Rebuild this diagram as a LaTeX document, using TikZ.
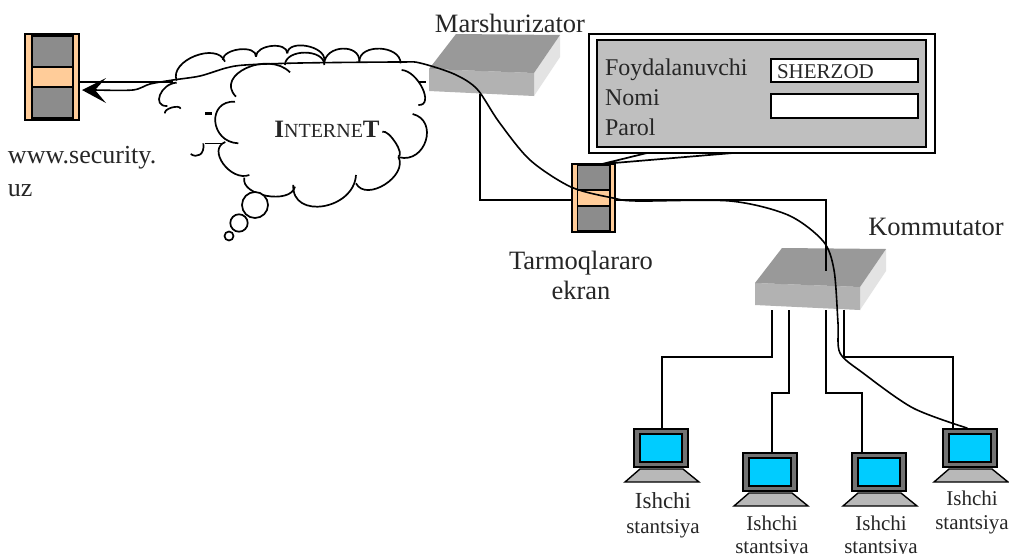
\documentclass[tikz,border=0pt]{standalone}
\usepackage{fontspec}
\setmainfont{Liberation Serif}
\usetikzlibrary{calc}
\definecolor{peach}{HTML}{FFCC99}
\definecolor{scr}{HTML}{00CCFF}
\newcommand{\fsz}[1]{\fontsize{#1}{#1}\selectfont}
\newcommand{\maincloud}{420/187/290/174/258/260,255/275/196/335/265/400,226/396/220/462/298/495,283/503/350/558/435/530,430/525/520/589/618/495,618/520/705/524/745/440,745/440/737/398/697/365,748/442/828/392/788/312,805/285/818/235/755/180,752/160/690/116/628/155,628/155/578/116/523/160,523/165/465/128/405/165}
\newcommand{\backcloud}{80/212/135/138/225/155,218/150/270/118/318/140,318/140/365/108/412/130,412/130/470/108/523/150,80/218/30/255/52/288,45/310/65/293/92/296}
\tikzset{
  x=1pt,y=-1pt,
  lbl/.style={anchor=base,inner sep=0pt,outer sep=0pt,text=black!85},
  conn/.style={draw=black,line width=2pt,line join=miter},
  wire/.style={draw=black,line width=1.6pt,line cap=round,line join=round},
  cl/.style={draw=black,line width=1.7pt},
  fwall/.pic={
    \filldraw[fill=peach,draw=black,line width=1.8pt] (0,0) rectangle (54,86);
    \filldraw[fill=black!45,draw=black,line width=1.4pt] (7,2) rectangle (48,33);
    \filldraw[fill=peach,draw=black,line width=1.8pt] (7,33) rectangle (48,53);
    \filldraw[fill=black!45,draw=black,line width=1.4pt] (7,53) rectangle (48,84);
  },
  box3d/.pic={
    \fill[black!11] (105,4) -- (131,-34) -- (131,-12) -- (105,27) -- cycle;
    \fill[black!30] (0,0) -- (105,4) -- (105,27) -- (0,22) -- cycle;
    \fill[black!40] (0,0) -- (27,-35) -- (131,-34) -- (105,4) -- cycle;
  },
  pcst/.pic={
    \filldraw[fill=black!55,draw=black,line width=1.3pt] (0,0) rectangle (54,38);
    \filldraw[fill=scr,draw=black,line width=1.7pt] (6,5) rectangle (48,33);
    \filldraw[fill=black!28,draw=black,line width=1.4pt] (6,40) -- (49,40) -- (65,53) -- (-9,53) -- cycle;
  }
}
\begin{document}
\begin{tikzpicture}
\useasboundingbox (0,0) rectangle (1009,554);
\fill[white] (0,0) rectangle (1009,554);
% named anchors
\coordinate (rb) at (480,94);
\coordinate (rc) at (480,200);
\coordinate (fL) at (572,200);
\coordinate (sc) at (825.5,200);
\coordinate (st) at (825.5,271);
\coordinate (srvTip) at (82,90);
\coordinate (srvTop) at (80,82);
\coordinate (cloudEdge) at (173,82);
\coordinate (s1) at (772,310);\coordinate (s2) at (789,310);\coordinate (s3) at (826,310);\coordinate (s4) at (844,310);
\coordinate (p1) at (662,429);\coordinate (p2) at (772,453);\coordinate (p3) at (862,453);\coordinate (p4) at (953,429);
% back cloud
\begin{scope}[shift={(150,10)},x=.3333pt,y=-.3333pt]
\foreach \ax/\ay/\px/\py/\bx/\by in \backcloud
  \draw[cl] (\ax,\ay) .. controls ($.333*(\ax,\ay)+1.333*(\px,\py)-.667*(\bx,\by)$) and ($.333*(\bx,\by)+1.333*(\px,\py)-.667*(\ax,\ay)$) .. (\bx,\by);
\draw[cl] (122,432) .. controls (140,445) and (165,435) .. (160,400);
\draw[black,line width=1pt] (165,400) -- (225,400);
\draw[cl] (805,215) -- (828,215);
\fill[black] (165,305) rectangle (185,316);
% main cloud fill
\foreach \ax/\ay/\px/\py/\bx/\by in \maincloud
  \fill[white] (\ax,\ay) .. controls ($.333*(\ax,\ay)+1.333*(\px,\py)-.667*(\bx,\by)$) and ($.333*(\bx,\by)+1.333*(\px,\py)-.667*(\ax,\ay)$) .. (\bx,\by) -- cycle;
\fill[white] (420,187) -- (258,260) -- (265,400) -- (298,495) -- (435,530) -- (618,495) -- (745,440) -- (788,312) -- (755,180) -- (628,155) -- (523,160) -- cycle;
\foreach \ax/\ay/\px/\py/\bx/\by in \maincloud
  \draw[cl] (\ax,\ay) .. controls ($.333*(\ax,\ay)+1.333*(\px,\py)-.667*(\bx,\by)$) and ($.333*(\bx,\by)+1.333*(\px,\py)-.667*(\ax,\ay)$) .. (\bx,\by);
\end{scope}
\draw[cl,fill=white] (255,205) circle (13);
\draw[cl,fill=white] (239,223) circle (8.7);
\draw[cl,fill=white] (229,236) circle (4.5);
\node[lbl] (inet) at (327,137) {{\fsz{25}\bfseries I}{\fsz{20}NTERNE}{\fsz{25}\bfseries T}};
% devices
\path (429,69) pic {box3d};
\path (755,283) pic {box3d};
% connectors
\draw[conn] (rb) -- (rc) -- (fL);
\draw[conn] (fL) -- (sc) -- (st);
\draw[conn] (s1) |- (p1 |- 0,357) -- (p1);
\draw[conn] (s2) |- (p2 |- 0,393) -- (p2);
\draw[conn] (s3) |- (p3 |- 0,393) -- (p3);
\draw[conn] (s4) |- (p4 |- 0,357) -- (p4);
% firewalls
\path (25,34) pic {fwall};
\path (572,164) pic[scale=.79] {fwall};
% panel
\coordinate (pA) at (647,153);\coordinate (pB) at (733,153);\coordinate (fwTop) at (602,164);
\draw[black,line width=1.7pt] (pA) -- (fwTop) -- (pB);
\draw[fill=white,draw=black,line width=2pt] (589,34) rectangle (935,153);
\draw[fill=black!25,draw=black,line width=2pt] (597,40) rectangle (926,147);
\draw[fill=white,draw=black,line width=2pt] (771,58.5) rectangle (918,82);
\draw[fill=white,draw=black,line width=2pt] (771,94) rectangle (918,118);
% PCs
\path (634,429) pic {pcst};
\path (743,453) pic {pcst};
\path (852,453) pic {pcst};
\path (943,429) pic {pcst};
% wire + arrow
\draw[black,line width=1.6pt] (srvTop) -- (cloudEdge);
\draw[wire] plot[smooth,tension=.5] coordinates {(95,90) (133,90) (150,84) (173,80) (200,76) (226,68) (245,65) (300,63) (400,62) (420,63) (454,74) (477,89) (499,122) (530,160) (571,187) (613,198) (637,201) (730,201) (788,215) (823,241) (834,270) (838,323) (840,353) (863,373) (913,408) (967,428)};
\fill[black] (srvTip) -- (106,78) -- (95,90) -- (106,103) -- cycle;
% labels
\node[lbl,anchor=base west] (www) at (8,163) {\fsz{26}www.security.};
\node[lbl,anchor=base west] (uz) at (8,196) {\fsz{26}uz};
\node[lbl] (mar) at (510,32) {\fsz{26.5}Marshurizator};
\node[lbl] (kom) at (936,235) {\fsz{26.5}Kommutator};
\node[lbl] (tar) at (581,269) {\fsz{26.5}Tarmoqlararo};
\node[lbl] (ekr) at (581,299) {\fsz{26.5}ekran};
\node[lbl,anchor=base west] (foy) at (605,75) {\fsz{24}Foydalanuvchi};
\node[lbl,anchor=base west] (nom) at (605,105) {\fsz{24}Nomi};
\node[lbl,anchor=base west] (par) at (605,135) {\fsz{24}Parol};
\node[lbl,anchor=base west] (she) at (777,78) {\fsz{21}SHERZOD};
\node[lbl] (i1) at (663,508) {\fsz{23}Ishchi};
\node[lbl] (t1) at (663,533) {\fsz{21}stantsiya};
\node[lbl] (i2) at (772,530) {\fsz{21}Ishchi};
\node[lbl] (t2) at (772,553) {\fsz{21}stantsiya};
\node[lbl] (i3) at (881,530) {\fsz{21}Ishchi};
\node[lbl] (t3) at (881,553) {\fsz{21}stantsiya};
\node[lbl] (i4) at (972,505) {\fsz{21}Ishchi};
\node[lbl] (t4) at (972,529) {\fsz{21}stantsiya};
\end{tikzpicture}
\end{document}
